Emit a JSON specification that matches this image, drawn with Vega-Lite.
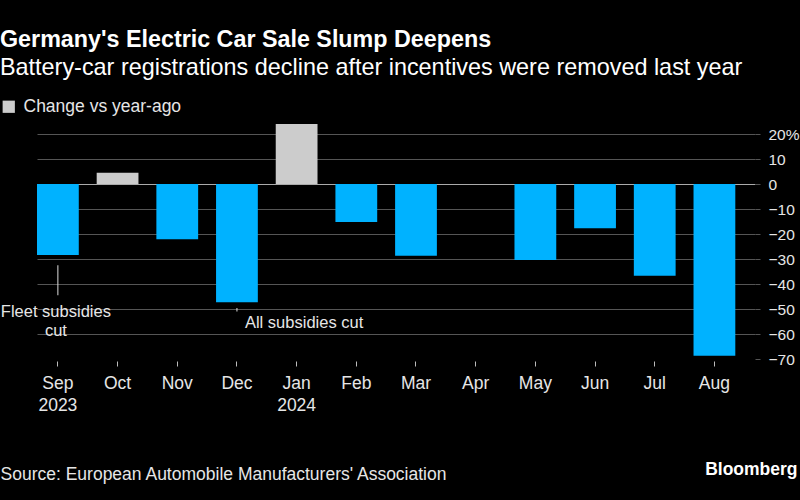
{
  "$schema": "https://vega.github.io/schema/vega-lite/v6.json",
  "width": 718,
  "height": 235,
  "autosize": {"type": "none"},
  "padding": {"left": 37, "top": 124, "right": 45, "bottom": 141},
  "background": "#000000",
  "config": {
    "view": {"stroke": null},
    "font": "Liberation Sans"
  },
  "title": {
    "text": "Germany's Electric Car Sale Slump Deepens",
    "subtitle": "Battery-car registrations decline after incentives were removed last year",
    "anchor": "start",
    "offset": 18,
    "font": "Liberation Sans",
    "fontSize": 23.3,
    "fontWeight": "bold",
    "color": "#ffffff",
    "subtitleFont": "Liberation Sans",
    "subtitleFontSize": 23.4,
    "subtitleColor": "#ffffff",
    "subtitlePadding": 4
  },
  "data": {
    "values": [
      {"month": "Sep", "change": -28.4},
      {"month": "Oct", "change": 4.5},
      {"month": "Nov", "change": -22.1},
      {"month": "Dec", "change": -47.3},
      {"month": "Jan", "change": 24.0},
      {"month": "Feb", "change": -15.2},
      {"month": "Mar", "change": -28.7},
      {"month": "Apr", "change": 0.0},
      {"month": "May", "change": -30.4},
      {"month": "Jun", "change": -17.7},
      {"month": "Jul", "change": -36.7},
      {"month": "Aug", "change": -68.7}
    ]
  },
  "encoding": {
    "x": {
      "field": "month",
      "type": "nominal",
      "sort": null,
      "scale": {"paddingInner": 0.3, "paddingOuter": 0.165, "align": 0},
      "axis": {
        "orient": "bottom",
        "domain": false,
        "ticks": true,
        "tickColor": "#bbbbbb",
        "tickSize": 5,
        "offset": 2,
        "labelAngle": 0,
        "labelFontSize": 17.5,
        "labelColor": "#e6e6e6",
        "labelPadding": 8,
        "labelLineHeight": 22,
        "labelExpr": "datum.value === 'Sep' ? ['Sep', '2023'] : datum.value === 'Jan' ? ['Jan', '2024'] : datum.value",
        "title": "Source: European Automobile Manufacturers' Association",
        "titleX": -37,
        "titleY": 118,
        "titleAlign": "left",
        "titleAnchor": "start",
        "titleBaseline": "alphabetic",
        "titleFontSize": 17.5,
        "titleFontWeight": "normal",
        "titleColor": "#e6e6e6"
      }
    },
    "y": {
      "type": "quantitative",
      "scale": {"domain": [-70, 24], "nice": false, "zero": false},
      "axis": {
        "orient": "right",
        "values": [20, 10, 0, -10, -20, -30, -40, -50, -60, -70],
        "domain": false,
        "grid": true,
        "gridColor": {"condition": {"test": "datum.value === 0", "value": "#aaaaaa"}, "value": "#555555"},
        "gridOpacity": {"condition": {"test": "datum.value === -70", "value": 0}, "value": 1},
        "tickColor": "#555555",
        "tickSize": 5,
        "labelPadding": 8,
        "labelFontSize": 15.5,
        "labelColor": "#e6e6e6",
        "labelExpr": "datum.value === 20 ? '20%' : datum.label",
        "title": "Bloomberg",
        "titleAngle": 0,
        "titleX": 42,
        "titleY": 350,
        "titleAlign": "right",
        "titleBaseline": "alphabetic",
        "titleFontSize": 17.5,
        "titleFontWeight": "bold",
        "titleColor": "#ffffff"
      }
    }
  },
  "layer": [
    {
      "mark": {"type": "bar"},
      "encoding": {
        "y": {"field": "change"},
        "color": {
          "condition": {"test": "datum.change < 0", "value": "#00b2ff"},
          "datum": "Change vs year-ago",
          "type": "nominal",
          "scale": {"range": ["#cccccc"]},
          "legend": {
            "orient": "none",
            "legendX": -37,
            "legendY": -26,
            "title": null,
            "symbolType": "square",
            "symbolSize": 150,
            "symbolStrokeWidth": 0,
            "symbolOpacity": 1,
            "labelFontSize": 17.5,
            "labelColor": "#e6e6e6",
            "labelOffset": 6
          }
        }
      }
    },
    {
      "data": {"values": [{}]},
      "mark": {"type": "rule", "color": "#dddddd", "strokeWidth": 1},
      "encoding": {
        "x": {"datum": "Sep"},
        "y": {"datum": -32.5},
        "y2": {"datum": -44.5}
      }
    },
    {
      "data": {"values": [{}]},
      "mark": {"type": "rule", "color": "#dddddd", "strokeWidth": 1},
      "encoding": {
        "x": {"datum": "Dec"},
        "y": {"datum": -49.6},
        "y2": {"datum": -51.0}
      }
    },
    {
      "data": {"values": [{}]},
      "mark": {"type": "text", "fontSize": 16.5, "color": "#e6e6e6", "align": "center", "baseline": "middle", "lineBreak": "\n", "lineHeight": 19, "dx": -2},
      "encoding": {
        "x": {"datum": "Sep"},
        "y": {"datum": -51.2},
        "text": {"value": "Fleet subsidies\ncut"}
      }
    },
    {
      "data": {"values": [{}]},
      "mark": {"type": "text", "fontSize": 16.5, "color": "#e6e6e6", "align": "left", "baseline": "middle", "dx": 8},
      "encoding": {
        "x": {"datum": "Dec"},
        "y": {"datum": -55.6},
        "text": {"value": "All subsidies cut"}
      }
    }
  ]
}
